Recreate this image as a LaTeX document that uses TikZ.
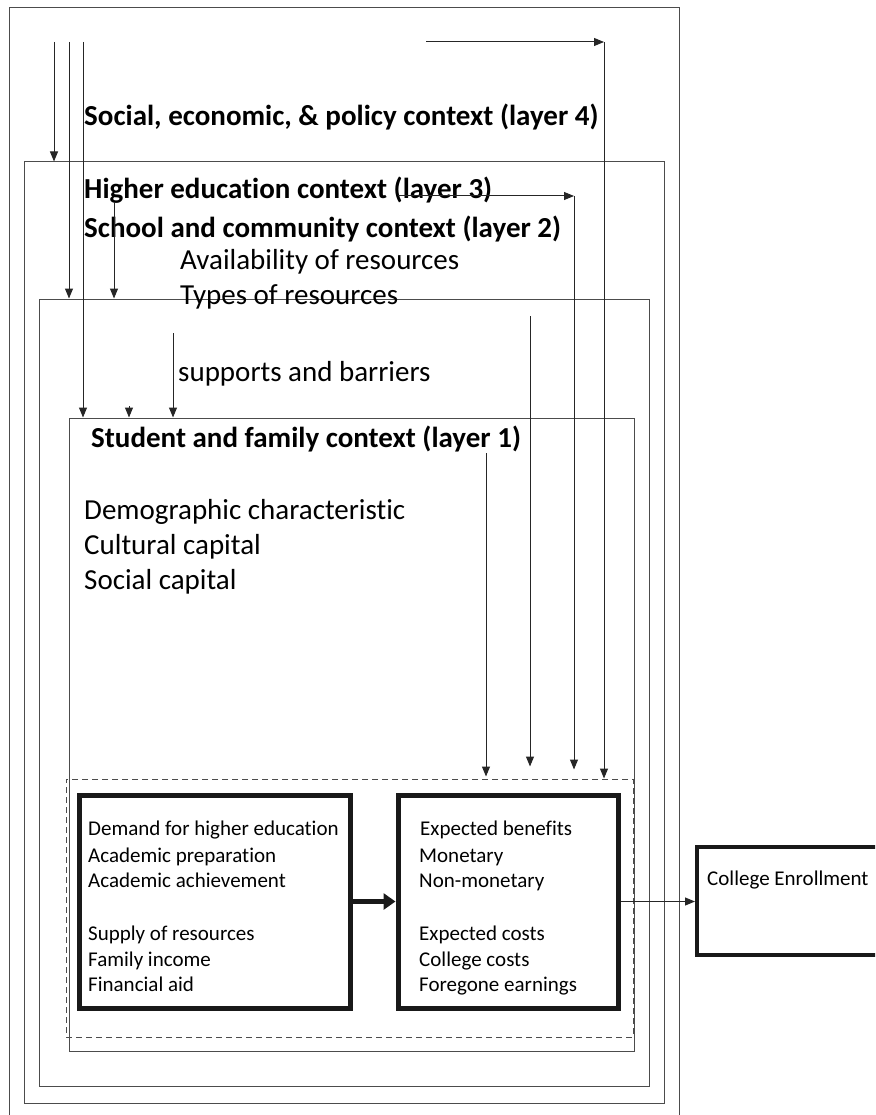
\documentclass[tikz,border=0pt]{standalone}
\usepackage{fontspec}
\setmainfont{Carlito}[Ligatures=NoCommon]
\usetikzlibrary{arrows.meta}
\tikzstyle{layer}=[
	draw=black!70,
	line width=1pt,
	inner sep=0pt
]
\tikzstyle{core}=[
	draw=black!90,
	line width=5pt,
	inner sep=0pt
]
\tikzstyle{heading}=[anchor=base west, inner sep=0pt, font=\fontsize{29}{35}\selectfont\bfseries]
\tikzstyle{item}=[anchor=base west, inner sep=0pt, font=\fontsize{29}{35}\selectfont]
\tikzstyle{small}=[anchor=base west, inner sep=0pt, font=\fontsize{21}{26}\selectfont]
\tikzstyle{link}=[-{Triangle[length=10pt,width=8pt]}, line width=1pt, black!85]

\begin{document}
\begin{tikzpicture}[x=1pt,y=-1pt]
\useasboundingbox (0,0) rectangle (875,1115);
\clip (0,0) rectangle (875,1115);

% Layer 4
\node[layer, minimum width=670pt, minimum height=1112pt] (l4) at (344,564){};

% Layer 3
\node[layer, minimum width=640pt, minimum height=941pt] (l3) at (344,632.5){};

% Layer 2
\node[layer, minimum width=610pt, minimum height=787pt] (l2) at (344,692.5){};

% Layer 1
\node[layer, minimum width=565pt, minimum height=633pt] (l1) at (351.5,734.5){};

% Decision area
\node[layer, dashed, dash pattern=on 6pt off 4pt, minimum width=567pt, minimum height=258pt] (dash) at (349.5,908){};

% Demand and supply box
\node[core, minimum width=271pt, minimum height=213pt] (lbox) at (214.5,901.5){};

% Benefits and costs box
\node[core, minimum width=220pt, minimum height=213pt] (rbox) at (508,901.5){};

% Outcome box
\node[core, line width=4pt, minimum width=208pt, minimum height=108pt] (coll) at (801,901){};

% Layer titles and contents
\node[heading] (t4) at (84,126){Social, economic, \& policy context (layer 4)};
\node[heading] (t3) at (84,199){Higher education context (layer 3)};
\node[heading] (t2) at (84,237){School and community context (layer 2)};
\node[item] (avail) at (180,269){Availability of resources};
\node[item] (types) at (180,304){Types of resources};
\node[item] (supp) at (178,381){supports and barriers};
\node[heading] (t1) at (91,447){Student and family context (layer 1)};
\node[item] (demo) at (84,519){Demographic characteristic};
\node[item] (cult) at (84,554){Cultural capital};
\node[item] (soc) at (84,589){Social capital};

% Left box text
\node[small] (d1) at (88,835){Demand for higher education};
\node[small] (d2) at (88,862){Academic preparation};
\node[small] (d3) at (88,887){Academic achievement};
\node[small] (d4) at (88,940){Supply of resources};
\node[small] (d5) at (88,966){Family income};
\node[small] (d6) at (88,991){Financial aid};

% Right box text
\node[small] (b1) at (420,835){Expected benefits};
\node[small] (b2) at (419,862){Monetary};
\node[small] (b3) at (419,887){Non-monetary};
\node[small] (b4) at (419,940){Expected costs};
\node[small] (b5) at (419,966){College costs};
\node[small] (b6) at (419,991){Foregone earnings};

% Outcome text
\node[small] (out) at (707,885){College Enrollment};

% Arrow start points
\coordinate (s1) at (54,42);
\coordinate (s2) at (69,42);
\coordinate (s3) at (83,42);
\coordinate (h1) at (114,202);
\coordinate (h2) at (129,406);
\coordinate (h3) at (173,333);
\coordinate (p1) at (426,42);
\coordinate (p2) at (604,42);
\coordinate (q1) at (398,196);
\coordinate (q2) at (574,196);
\coordinate (r1) at (530,316);
\coordinate (r2) at (486,453);

% Context flowing into the inner layers
\draw[link] (s1) -- (s1 |- l3.north);
\draw[link] (s2) -- (s2 |- l2.north);
\draw[link] (s3) -- (s3 |- l1.north);
\draw[link] (h1) -- (h1 |- l2.north);
\draw[link] (h2) -- (h2 |- l1.north);
\draw[link] (h3) -- (h3 |- l1.north);

% Context flowing into the decision area
\draw[link] (p1) -- (p2);
\draw[link] (p2) -- (p2 |- dash.north);
\draw[link] (q1) -- (q2);
\draw[link, shorten >=9pt] (q2) -- (q2 |- dash.north);
\draw[link, shorten >=12pt] (r1) -- (r1 |- dash.north);
\draw[link, shorten >=2pt] (r2) -- (r2 |- dash.north);

% Decision
\draw[-{Triangle[length=12pt,width=16pt]}, line width=5pt, black!90] (lbox.east) -- (rbox.west);

% Enrollment
\draw[link] (rbox.east) -- (rbox.east -| coll.west);

\end{tikzpicture}
\end{document}
